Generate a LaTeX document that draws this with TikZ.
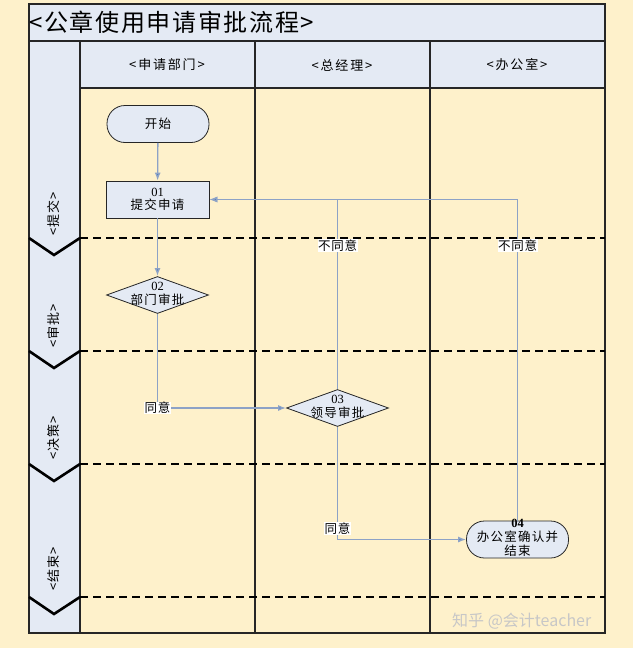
\documentclass[tikz,border=0pt]{standalone}
\usepackage{fontspec}
\setmainfont{Liberation Serif}
\newfontfamily\cjk{Noto Sans CJK SC}
\newfontfamily\cjkt[LetterSpace=7]{Noto Sans CJK SC}
\newfontfamily\cjkh[LetterSpace=14]{Noto Sans CJK SC}
\newfontfamily\cjkn[LetterSpace=10]{Noto Sans CJK SC}
\newfontfamily\cjkl[LetterSpace=6]{Noto Sans CJK SC}
\usetikzlibrary{shapes.geometric,arrows.meta}
\definecolor{cream}{HTML}{FEF1CB}
\definecolor{paleblue}{HTML}{E4EAF4}
\definecolor{linec}{HTML}{8DA2C6}
\definecolor{arrowc}{HTML}{4A7EBB}
\begin{document}
\begin{tikzpicture}[x=1pt,y=-1pt,
  frame/.style={draw=black!85,line width=1.2pt},
  sepline/.style={black,line width=2.6pt,dash pattern=on 8pt off 5pt},
  chev/.style={black,line width=2.6pt},
  stadium/.style={draw=black!85,fill=paleblue,rounded corners=18pt,minimum width=102pt,minimum height=37pt,inner sep=0pt,line width=0.8pt},
  boxstep/.style={draw=black!85,fill=paleblue,minimum width=103pt,minimum height=37pt,inner sep=0pt,line width=0.8pt},
  dia/.style={draw=black!85,fill=paleblue,shape=diamond,minimum width=102pt,minimum height=37pt,inner sep=0pt,line width=0.8pt},
  txt/.style={font=\cjkn\fontsize{12.5}{13.5}\selectfont,align=center,inner sep=0pt},
  hdr/.style={font=\cjkh\fontsize{13}{14}\selectfont},
  phase/.style={font=\cjkl\fontsize{13}{14}\selectfont,rotate=90},
  conn/.style={color=arrowc,draw=linec,line width=1.3pt,-{Latex[length=8pt,width=6pt,fill=arrowc]}},
  lab/.style={font=\cjkl\fontsize{12.5}{13}\selectfont,fill=white,inner sep=0.5pt,text=black}
]
\useasboundingbox (0,0) rectangle (633,648);
\fill[cream] (0,0) rectangle (633,648);
% title bar and phase column
\fill[paleblue] (29,4) rectangle (605,41);
\fill[paleblue] (29,41) rectangle (80,633);
\fill[paleblue] (80,41) rectangle (605,88);
% frame lines
\draw[frame] (29,4) rectangle (605,633);
\draw[frame] (29,41) -- (605,41);
\draw[frame] (80,88) -- (605,88);
\draw[frame] (80,41) -- (80,633);
\draw[frame] (255,41) -- (255,633);
\draw[frame] (430,41) -- (430,633);
% title
\node[anchor=west,font=\cjkt\fontsize{24}{26}\selectfont,inner sep=0pt] (title) at (29,22) {<公章使用申请审批流程>};
% headers
\node[hdr] (h1) at (167,65) {<申请部门>};
\node[hdr] (h2) at (342,65) {<总经理>};
\node[hdr] (h3) at (517,65) {<办公室>};
% phase separators
\foreach \y in {238,351,464,597}{
  \draw[sepline] (80,\y) -- (605,\y);
  \draw[chev] (29,\y) -- (54,\y+17) -- (80,\y);
}
% phase labels
\node[phase] (p1) at (54,214) {<提交>};
\node[phase] (p2) at (54,326) {<审批>};
\node[phase] (p3) at (54,438) {<决策>};
\node[phase] (p4) at (54,569) {<结束>};
% nodes
\node[stadium] (start) at (158,124) {};
\node[txt] (startt) at (start.center) {开始};
\node[boxstep] (s01) at (157.5,199.5) {};
\node[txt] (s01t) at (s01.center) {{\rmfamily 01}\\提交申请};
\node[dia] (s02) at (157.5,295) {};
\node[txt] (s02t) at (157.5,294) {{\rmfamily 02}\\部门审批};
\node[dia] (s03) at (337.5,408) {};
\node[txt] (s03t) at (337.5,407) {{\rmfamily 03}\\领导审批};
\node[stadium] (s04) at (517.5,539.5) {};
\node[txt,font=\cjkn\fontsize{12.5}{14}\selectfont] (s04t) at (517.5,537.5) {{\rmfamily\bfseries 04}\\办公室确认并\\结束};
% connectors
\draw[conn] (start) -- (s01);
\draw[conn] (s01) -- (s02);
\draw[conn] (s02.south) |- node[lab,pos=0.5] {同意} (s03.west);
\draw[conn] (s03.south) |- node[lab,pos=0.45] {同意} (s04.west);
\draw[conn] (s04.north) |- node[lab,pos=0.428] {不同意} (s01.east);
\draw[conn] (s03.north) |- node[lab,pos=0.378] {不同意} (s01.east);
% watermark
\node[anchor=west,font=\cjk\fontsize{16}{18}\selectfont,text=black!22,inner sep=0pt] (wm) at (452,621) {知乎 @会计teacher};
\end{tikzpicture}
\end{document}
